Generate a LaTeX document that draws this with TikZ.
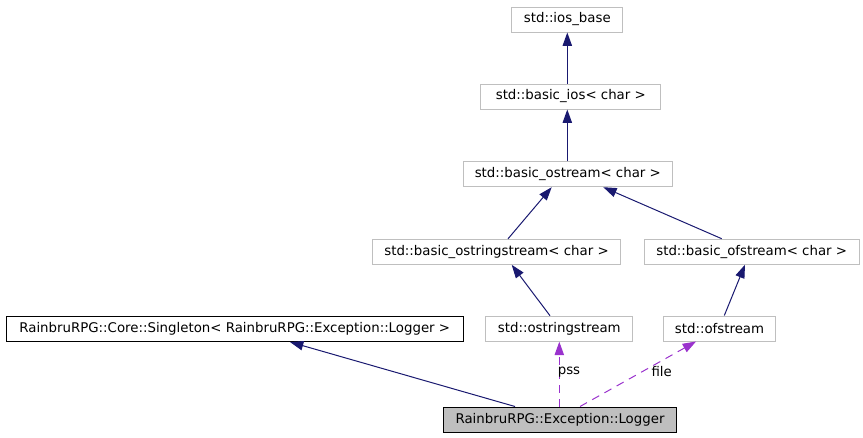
\documentclass[tikz,border=0pt]{standalone}
\usepackage{fontspec}
\setmainfont{DejaVu Sans}
\usetikzlibrary{arrows.meta,calc}
\definecolor{edgeblue}{HTML}{191970}
\definecolor{edgepurple}{HTML}{9A32CD}
\definecolor{boxgrey}{HTML}{BFBFBF}

\begin{document}
\begin{tikzpicture}[
	x=0.75pt, y=-0.75pt,
	font=\fontsize{10}{12}\selectfont,
	cls/.style={
		draw=boxgrey, line width=0.75pt, inner sep=0pt,
		minimum height=18.75pt, align=center
	},
	ref/.style={cls, draw=black},
	cur/.style={cls, draw=black, fill=boxgrey},
	inh/.style={-{Triangle[length=10pt, width=7pt]}, edgeblue, line width=0.75pt},
	use/.style={-{Triangle[length=10pt, width=7pt]}, edgepurple, line width=0.75pt,
		dash pattern=on 6pt off 4.5pt},
	lbl/.style={inner sep=0pt}
]
\useasboundingbox (0,0) rectangle (863,437);

% Nodes
\node[cls, minimum width=83.25pt]  (ib)  at (567.3, 19.5)  {std::ios\_base};
\node[cls, minimum width=135pt]    (bi)  at (570.8, 96.5)  {std::basic\_ios< char >};
\node[cls, minimum width=156.75pt] (bo)  at (567.8, 174.2) {std::basic\_ostream< char >};
\node[cls, minimum width=186pt]    (bos) at (496.5, 251.8) {std::basic\_ostringstream< char >};
\node[cls, minimum width=161.25pt] (bof) at (751.7, 251.7) {std::basic\_ofstream< char >};
\node[ref, minimum width=343pt]    (sg)  at (234.7, 329)   {RainbruRPG::Core::Singleton< RainbruRPG::Exception::Logger >};
\node[cls, minimum width=110pt]    (os)  at (559.3, 328.7) {std::ostringstream};
\node[cls, minimum width=84.3pt]   (of)  at (719.5, 328.5) {std::ofstream};
\node[cur, minimum width=175pt]    (lg)  at (560, 419.5)   {RainbruRPG::Exception::Logger};

% Inheritance
\draw[inh] (bi.north -| ib.south) -- (ib.south);
\draw[inh] (bo.north -| ib.south) -- (bi.south -| ib.south);
\draw[inh] ($(bos.north)+(11.5,0)$) -- ($(bo.south)+(-16.1,0)$);
\draw[inh] ($(bof.north)+(-30,0)$) -- ($(bo.south)+(35.5,0)$);
\draw[inh] ($(os.north)+(-9.3,0)$) -- ($(bos.south)+(15.2,0)$);
\draw[inh] ($(of.north)+(4.8,0)$) -- ($(bof.south)+(-6.7,0)$);
\draw[inh] ($(lg.north)+(-45,0)$) -- ($(sg.south)+(55.3,0)$);

% Members
\draw[use] (lg.north -| os.south) -- (os.south);
\draw[use] ($(lg.north)+(20,0)$) -- ($(of.south)+(-23.5,0)$);
\node[lbl] (pss)  at (569, 372)   {pss};
\node[lbl] (file) at (661.7, 371.5) {file};

\end{tikzpicture}
\end{document}
